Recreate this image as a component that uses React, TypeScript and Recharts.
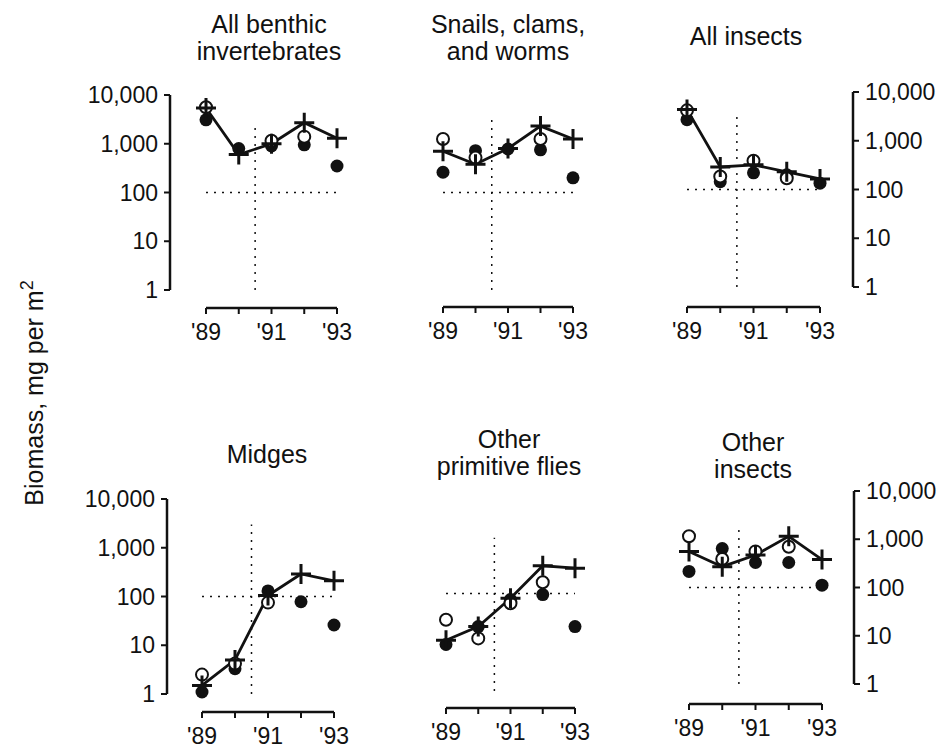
import React from "react";
import { ComposedChart, Line, Scatter, XAxis, YAxis, ReferenceLine } from "recharts";

const FONT = '"Liberation Sans", Arial, Helvetica, sans-serif';
const INK = "#111";

const YEARS = [1989, 1990, 1991, 1992, 1993];
const YEAR_LABELS: Record<number, string> = { 1989: "'89", 1991: "'91", 1993: "'93" };
const Y_TICKS = [1, 10, 100, 1000, 10000];

// biomass, mg per m2 — plus = line series, open / filled = circles
const benthicPlus = [5400, 600, 1000, 2700, 1300];
const benthicOpen = [5600, null, 1150, 1400, null];
const benthicFilled = [3100, 800, 900, 950, 350];

const snailsPlus = [700, 380, 800, 2300, 1250];
const snailsOpen = [1250, 520, null, 1250, null];
const snailsFilled = [260, 720, 780, 750, 200];

const insectsPlus = [4400, 290, 320, 230, 165];
const insectsOpen = [4200, 185, 390, 170, null];
const insectsFilled = [2700, 145, 220, 200, 135];

const midgesPlus = [1.5, 5, 105, 290, 210];
const midgesOpen = [2.5, 4.2, 75, null, null];
const midgesFilled = [1.1, 3.3, 130, 78, 26];

const fliesPlus = [11, 21, 80, 370, 330];
const fliesOpen = [29, 12, 63, 170, null];
const fliesFilled = [9, 21, 75, 95, 21];

const otherPlus = [560, 270, 470, 1150, 380];
const otherOpen = [1150, 390, 560, 700, null];
const otherFilled = [215, 640, 330, 330, 112];

type Geom = {
  axis: "left" | "right" | "none";
  axisX: number;
  x89: number;
  x93: number;
  top: number; // y of 10,000
  y1: number; // y of 1
  baseY: number; // y of the detached year axis
  vTop: number; // upper end of the dotted 1990/91 divider
};

function PlusMark({ cx, cy }: { cx: number; cy: number }) {
  if (cx == null || cy == null) return null;
  return (
    <path
      d={`M${cx - 10},${cy}H${cx + 10}M${cx},${cy - 10}V${cy + 10}`}
      stroke={INK}
      strokeWidth={3}
      fill="none"
    />
  );
}

function Panel({
  g,
  plus,
  open,
  filled,
}: {
  g: Geom;
  plus: (number | null)[];
  open: (number | null)[];
  filled: (number | null)[];
}) {
  const step = (g.x93 - g.x89) / 4;
  const plotLeft = g.axis === "left" ? g.axisX : g.x89;
  const plotRight = g.axis === "right" ? g.axisX : g.x93;
  const xMin = 1989 - (g.x89 - plotLeft) / step;
  const xMax = 1993 + (plotRight - g.x93) / step;
  const decade = (g.y1 - g.top) / 4;
  const yMin = Math.pow(10, -(g.baseY - g.y1) / decade);

  const PAD_L = 100;
  const PAD_R = 100;
  const PAD_T = 20;
  const PAD_B = 50;
  const AXIS_W = 80;
  const width = plotRight - plotLeft + PAD_L + PAD_R;
  const height = g.baseY - g.top + PAD_T + PAD_B;

  const rows = YEARS.map((year, i) => ({ year, plus: plus[i], open: open[i], filled: filled[i] }));
  const openRows = rows.filter((r) => r.open != null);
  const filledRows = rows.filter((r) => r.filled != null);
  const axisLineX = g.axis === "right" ? xMax : xMin;

  const tickStyle = { fontSize: 23, fill: INK, fontFamily: FONT };

  return (
    <div style={{ position: "absolute", left: plotLeft - PAD_L, top: g.top - PAD_T }}>
      <ComposedChart
        width={width}
        height={height}
        data={rows}
        margin={{
          top: PAD_T,
          bottom: PAD_B - 40,
          left: g.axis === "left" ? PAD_L - AXIS_W : PAD_L,
          right: g.axis === "right" ? PAD_R - AXIS_W : PAD_R,
        }}
      >
        <XAxis
          type="number"
          dataKey="year"
          domain={[xMin, xMax]}
          ticks={YEARS}
          tickFormatter={(v: number) => YEAR_LABELS[v] ?? ""}
          axisLine={false}
          tickLine={{ stroke: INK, strokeWidth: 2 }}
          tickSize={6}
          tickMargin={10}
          tick={tickStyle}
          height={40}
          interval={0}
        />
        {g.axis === "none" ? (
          <YAxis hide scale="log" domain={[yMin, 10000]} />
        ) : (
          <YAxis
            orientation={g.axis}
            scale="log"
            domain={[yMin, 10000]}
            ticks={Y_TICKS}
            interval={0}
            tickFormatter={(v: number) => v.toLocaleString("en-US")}
            axisLine={false}
            tickLine={{ stroke: INK, strokeWidth: 2 }}
            tickSize={6}
            tickMargin={6}
            tick={tickStyle}
            width={AXIS_W}
          />
        )}
        {g.axis !== "none" && (
          <ReferenceLine
            segment={[
              { x: axisLineX, y: 1 },
              { x: axisLineX, y: 10000 },
            ]}
            stroke={INK}
            strokeWidth={2.5}
            ifOverflow="visible"
          />
        )}
        <ReferenceLine
          segment={[
            { x: 1989, y: yMin },
            { x: 1993, y: yMin },
          ]}
          stroke={INK}
          strokeWidth={2.5}
          ifOverflow="visible"
        />
        <ReferenceLine
          segment={[
            { x: 1990.5, y: 1 },
            { x: 1990.5, y: g.vTop },
          ]}
          stroke={INK}
          strokeWidth={1.5}
          strokeDasharray="2 6"
          ifOverflow="visible"
        />
        <ReferenceLine
          segment={[
            { x: 1989, y: 100 },
            { x: 1993, y: 100 },
          ]}
          stroke={INK}
          strokeWidth={1.5}
          strokeDasharray="2 6"
          ifOverflow="visible"
        />
        <Scatter
          data={filledRows}
          dataKey="filled"
          isAnimationActive={false}
          shape={(p: any) => <circle cx={p.cx} cy={p.cy} r={6.5} fill={INK} />}
        />
        <Scatter
          data={openRows}
          dataKey="open"
          isAnimationActive={false}
          shape={(p: any) => (
            <circle cx={p.cx} cy={p.cy} r={6} fill="#fff" stroke={INK} strokeWidth={2} />
          )}
        />
        <Line
          type="linear"
          dataKey="plus"
          stroke={INK}
          strokeWidth={2.8}
          isAnimationActive={false}
          dot={(p: any) => <PlusMark key={`p${p.index}`} cx={p.cx} cy={p.cy} />}
          activeDot={false}
        />
      </ComposedChart>
    </div>
  );
}

const GEOMS: Geom[] = [
  { axis: "left", axisX: 170, x89: 206, x93: 337, top: 95, y1: 290, baseY: 308, vTop: 2800 },
  { axis: "none", axisX: 0, x89: 443, x93: 573, top: 95, y1: 290, baseY: 307, vTop: 3400 },
  { axis: "right", axisX: 853, x89: 687, x93: 820, top: 92, y1: 287, baseY: 307, vTop: 3400 },
  { axis: "left", axisX: 167, x89: 202, x93: 334, top: 499, y1: 694, baseY: 712, vTop: 3000 },
  { axis: "none", axisX: 0, x89: 446, x93: 575, top: 496, y1: 691, baseY: 708, vTop: 1400 },
  { axis: "right", axisX: 854, x89: 689, x93: 822, top: 491, y1: 684, baseY: 704, vTop: 1800 },
];

const TITLES: { lines: string[]; x: number; y: number }[] = [
  { lines: ["All benthic", "invertebrates"], x: 269, y: 33 },
  { lines: ["Snails, clams,", "and worms"], x: 508, y: 33 },
  { lines: ["All insects"], x: 746, y: 45 },
  { lines: ["Midges"], x: 267, y: 463 },
  { lines: ["Other", "primitive flies"], x: 509, y: 448 },
  { lines: ["Other", "insects"], x: 753, y: 451 },
];

export default function App() {
  const series = [
    [benthicPlus, benthicOpen, benthicFilled],
    [snailsPlus, snailsOpen, snailsFilled],
    [insectsPlus, insectsOpen, insectsFilled],
    [midgesPlus, midgesOpen, midgesFilled],
    [fliesPlus, fliesOpen, fliesFilled],
    [otherPlus, otherOpen, otherFilled],
  ];
  return (
    <div
      style={{
        position: "absolute",
        left: 0,
        top: 0,
        width: 939,
        height: 750,
        background: "#fff",
        overflow: "hidden",
      }}
    >
      {GEOMS.map((g, i) => (
        <Panel key={i} g={g} plus={series[i][0]} open={series[i][1]} filled={series[i][2]} />
      ))}
      <svg
        width={939}
        height={750}
        style={{ position: "absolute", left: 0, top: 0, pointerEvents: "none" }}
      >
        {TITLES.map((t, i) => (
          <text key={i} x={t.x} y={t.y} textAnchor="middle" fontSize={25} fontFamily={FONT} fill={INK}>
            {t.lines.map((line, j) => (
              <tspan key={j} x={t.x} dy={j === 0 ? 0 : 27}>
                {line}
              </tspan>
            ))}
          </text>
        ))}
        <text
          transform="translate(43, 393) rotate(-90)"
          textAnchor="middle"
          fontSize={25}
          fontFamily={FONT}
          fill={INK}
        >
          Biomass, mg per m
          <tspan dy={-10} fontSize={18}>
            2
          </tspan>
        </text>
      </svg>
    </div>
  );
}
